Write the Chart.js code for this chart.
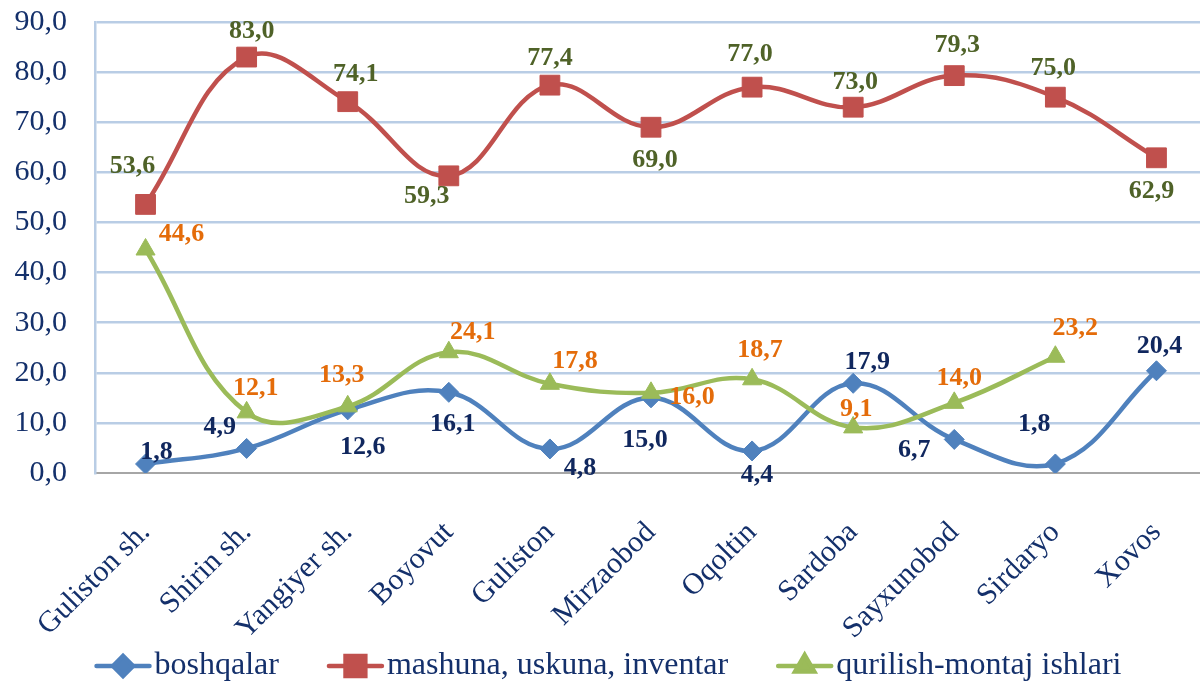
<!DOCTYPE html>
<html lang="uz">
<head>
    <meta charset="UTF-8" />
    <title>Investitsiyalar tarkibi</title>
    <script src="https://cdn.jsdelivr.net/npm/chart.js"></script>
    <style>
        html, body {
            margin: 0;
            padding: 0;
            background: #fff;
            overflow: hidden;
        }

        #wrap {
            width: 1200px;
            height: 689px;
            overflow: hidden;
        }
    </style>
</head>

<body>
    <div id="wrap">
        <canvas id="chart" width="1222" height="689"></canvas>
    </div>

    <script>
        const categories = ["Guliston sh.", "Shirin sh.", "Yangiyer sh.", "Boyovut", "Guliston", "Mirzaobod",
            "Oqoltin", "Sardoba", "Sayxunobod", "Sirdaryo", "Xovos"];

        const boshqalar = [1.8, 4.9, 12.6, 16.1, 4.8, 15.0, 4.4, 17.9, 6.7, 1.8, 20.4];
        const mashuna = [53.6, 83.0, 74.1, 59.3, 77.4, 69.0, 77.0, 73.0, 79.3, 75.0, 62.9];
        const qurilish = [44.6, 12.1, 13.3, 24.1, 17.8, 16.0, 18.7, 9.1, 14.0, 23.2, null];

        const yMin = 0;
        const yMax = 90;
        const yStep = 10;

        // where each value label sits next to its point (px)
        const boshqalarDx = [11, -27, 15, 4, 30, -6, 5, 14, -40, -21, 3];
        const boshqalarDy = [-12, -21, 37, 32, 19, 42, 24, -21, 11, -40, -24];
        const mashunaDx = [-13, 5, 8, -22, 0, 4, -2, 2, 3, -2, -5];
        const mashunaDy = [-38, -26, -27, 20, -27, 33, -33, -25, -30, -29, 33];
        const qurilishDx = [36, 9, -6, 24, 25, 41, 8, 3, 5, 20, 0];
        const qurilishDy = [-15, -24, -31, -20, -23, 4, -29, -18, -25, -28, 0];

        const FONT = "'Times New Roman', 'Liberation Serif', Tinos, serif";
        const TEXT = '#14306B';
        const GRID = '#B9CDE5';

        function fmt(v) {
            return v.toFixed(1).replace('.', ',');
        }

        function noPadding(scale) {
            scale.paddingLeft = 0;
            scale.paddingRight = 0;
            scale.paddingTop = 0;
            scale.paddingBottom = 0;
        }

        const valueLabels = {
            id: 'valueLabels',
            afterDatasetsDraw(chart) {
                const ctx = chart.ctx;
                ctx.save();
                ctx.font = 'bold 26px ' + FONT;
                ctx.textAlign = 'center';
                ctx.textBaseline = 'middle';
                chart.data.datasets.forEach((ds, di) => {
                    const meta = chart.getDatasetMeta(di);
                    meta.data.forEach((pt, i) => {
                        const v = ds.data[i];
                        if (v == null) return;
                        ctx.fillStyle = ds.labelColor;
                        ctx.fillText(fmt(v), pt.x + ds.labelDx[i], pt.y + ds.labelDy[i]);
                    });
                });
                ctx.restore();
            }
        };

        // legend entries drawn like excel: a short line with the marker on it
        const lineLegend = {
            id: 'lineLegend',
            afterDraw(chart) {
                const ctx = chart.ctx;
                const sets = chart.data.datasets;
                const lineLen = 53, textGap = 5, itemGap = 50;
                const y = 666;
                ctx.save();
                ctx.font = '32px ' + FONT;
                const widths = sets.map(d => ctx.measureText(d.label).width);
                const total = widths.reduce((a, w) => a + lineLen + textGap + w, 0) + itemGap * (sets.length - 1);
                let x = 609 - total / 2;
                sets.forEach((d, i) => {
                    ctx.strokeStyle = d.borderColor;
                    ctx.fillStyle = d.borderColor;
                    ctx.lineWidth = d.borderWidth;
                    ctx.lineCap = 'round';
                    ctx.beginPath();
                    ctx.moveTo(x, y);
                    ctx.lineTo(x + lineLen, y);
                    ctx.stroke();
                    Chart.helpers.drawPoint(ctx, {
                        pointStyle: d.pointStyle,
                        radius: d.pointRadius,
                        borderWidth: 1,
                        rotation: 0
                    }, x + lineLen / 2, y);
                    ctx.fillStyle = TEXT;
                    ctx.textAlign = 'left';
                    ctx.textBaseline = 'middle';
                    ctx.fillText(d.label, x + lineLen + textGap, y);
                    x += lineLen + textGap + widths[i] + itemGap;
                });
                ctx.restore();
            }
        };

        const data = {
            labels: categories,
            datasets: [{
                label: 'boshqalar',
                data: boshqalar,
                borderColor: '#4F81BD',
                backgroundColor: '#4F81BD',
                pointStyle: 'rectRot',
                pointRadius: 10,
                pointHoverRadius: 10,
                labelColor: '#10275E',
                labelDx: boshqalarDx,
                labelDy: boshqalarDy,
                order: 2
            }, {
                label: 'mashuna, uskuna, inventar',
                data: mashuna,
                borderColor: '#C0504D',
                backgroundColor: '#C0504D',
                pointStyle: 'rect',
                pointRadius: 14,
                pointHoverRadius: 14,
                labelColor: '#4F6228',
                labelDx: mashunaDx,
                labelDy: mashunaDy,
                order: 1
            }, {
                label: 'qurilish-montaj ishlari',
                data: qurilish,
                borderColor: '#9BBB59',
                backgroundColor: '#9BBB59',
                pointStyle: 'triangle',
                pointRadius: 11,
                pointHoverRadius: 11,
                labelColor: '#E46C0A',
                labelDx: qurilishDx,
                labelDy: qurilishDy,
                order: 0
            }]
        };

        data.datasets.forEach(ds => {
            ds.borderWidth = 4.5;
            ds.pointBorderWidth = 1;
            ds.pointBorderColor = ds.borderColor;
            ds.tension = 0.4;
            ds.fill = false;
        });

        new Chart(document.getElementById('chart'), {
            type: 'line',
            data: data,
            options: {
                responsive: false,
                animation: false,
                layout: {
                    padding: { top: 22, right: 3, left: 0, bottom: 0 }
                },
                plugins: {
                    legend: { display: false },
                    tooltip: { enabled: false }
                },
                scales: {
                    x: {
                        offset: true,
                        grid: { display: false },
                        border: { display: true, color: '#A6A6A6', width: 2 },
                        ticks: {
                            autoSkip: false,
                            minRotation: 45,
                            maxRotation: 45,
                            padding: 34,
                            color: TEXT,
                            font: { family: FONT, size: 30 }
                        },
                        afterFit(scale) {
                            scale.height = 689 - 473;
                            noPadding(scale);
                        }
                    },
                    y: {
                        min: yMin,
                        max: yMax,
                        ticks: {
                            stepSize: yStep,
                            padding: 28,
                            color: TEXT,
                            font: { family: FONT, size: 30 },
                            callback: v => fmt(v)
                        },
                        grid: {
                            drawTicks: false,
                            lineWidth: 2.5,
                            color: c => (c.tick && c.tick.value === 0) ? 'rgba(0,0,0,0)' : GRID
                        },
                        border: { display: true, color: GRID, width: 2.5 },
                        afterFit(scale) {
                            scale.width = 95;
                            noPadding(scale);
                        }
                    }
                }
            },
            plugins: [valueLabels, lineLegend]
        });
    </script>
</body>
</html>
